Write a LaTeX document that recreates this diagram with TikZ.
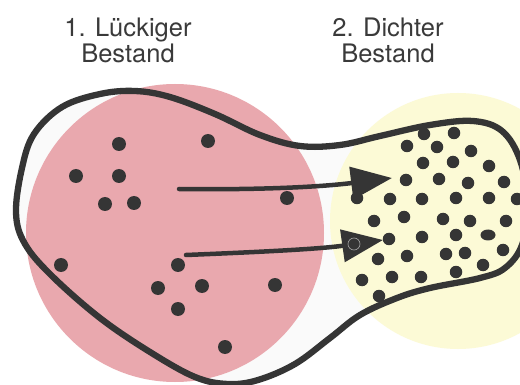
\documentclass[tikz,border=0pt]{standalone}
\usepackage{fontspec}
\setmainfont{TeX Gyre Heros}
\usetikzlibrary{arrows.meta,shapes.geometric}
\definecolor{pinkc}{HTML}{E9A8AE}
\definecolor{yelc}{HTML}{FCFAD6}
\definecolor{inkc}{HTML}{353535}
\definecolor{blobc}{HTML}{FAFAFA}
\definecolor{txtc}{HTML}{3A3A3A}
\begin{document}
\begin{tikzpicture}[x=1pt,y=-1pt,
  lbl/.style={font=\fontsize{25.5}{27}\selectfont, text=txtc, anchor=base, inner sep=0pt},
  dotp/.style={fill=inkc, circle, inner sep=0pt, minimum size=14pt},
  doty/.style={fill=inkc, circle, inner sep=0pt, minimum size=12.5pt},
  outl/.style={draw=inkc, line width=6.3pt, line join=round},
  arr/.style={draw=inkc, line width=4.5pt, line cap=round, -{Triangle[length=41pt,width=32pt]}}]
\useasboundingbox (0,0) rectangle (520,385);
\fill[white] (0,0) rectangle (520,385);
% blob shape
\def\blobpath{plot[smooth cycle, tension=0.6] coordinates {(16,213) (22,168) (34,134) (62,107) (100,94) (135,91) (170,97) (215,114) (260,135) (300,146) (340,145) (380,136) (430,125) (473,121) (502,131) (520,160) (528,205) (522,245) (505,268) (480,278) (430,288) (397,298) (360,315) (330,338) (295,364) (258,380) (228,384) (195,377) (150,352) (100,318) (52,276) (25,244)}}
\fill[blobc] \blobpath;
\fill[pinkc] (175,233) circle (149);
\fill[yelc] (458,221) circle (128);
% labels
\node[lbl] (t1) at (128,37) {1. Lückiger};
\node[lbl] (t2) at (128,63) {Bestand};
\node[lbl] (t3) at (388,37) {2. Dichter};
\node[lbl] (t4) at (388,63) {Bestand};
% pink dots
\foreach \p [count=\i] in {(119,144),(208,141),(76,176),(119,176),(105,204),(134,203),(287,198),(61,265),(178,265),(158,288),(202,286),(275,285),(178,309),(225,347)}
  \node[dotp] (p\i) at \p {};
% yellow dots
\foreach \p [count=\i] in {(424,134),(454,133),(407,146),(437,147),(471,151),(423,163),(453,162),(489,166),(406,180),(439,179),(468,183),(504,182),(357,198),(390,199),(422,199),(456,198),(489,198),(517,199),(374,221),(404,217),(443,219),(470,221),(506,221),(354,244),(389,239),(422,237),(456,235),(407,256),(378,259),(446,254),(465,253),(503,250),(362,280),(392,277),(421,277),(456,272),(483,265),(379,296)}
  \node[doty] (y\i) at \p {};
\node[fill=inkc, ellipse, inner sep=0pt, minimum width=15pt, minimum height=11pt] (yel) at (488,235) {};
% outline
\draw[outl] \blobpath;
% arrows
\coordinate (a1s) at (179,189);
\coordinate (a1e) at (392,178);
\coordinate (a2s) at (186,255);
\coordinate (a2e) at (383,240);
\draw[arr] (a1s) .. controls (260,190) and (320,187) .. (a1e);
\draw[arr] (a2s) .. controls (260,252) and (320,249) .. (a2e);
\draw[gray!70, line width=0.6pt] (y24) circle (6);
\end{tikzpicture}
\end{document}
